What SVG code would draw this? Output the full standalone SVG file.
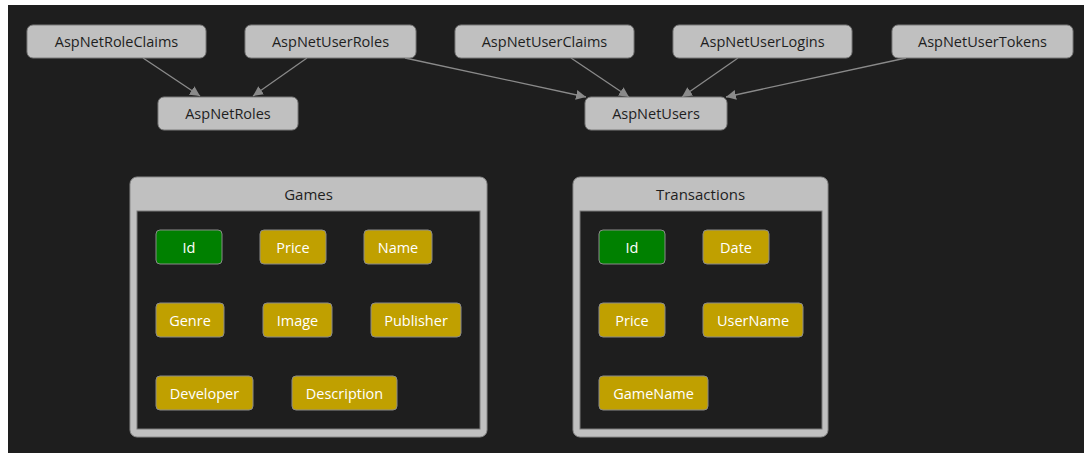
<svg xmlns="http://www.w3.org/2000/svg" width="1084" height="453" viewBox="0 0 1084 453">
<defs>
<marker id="arr" viewBox="0 0 10 10" refX="10" refY="5" markerWidth="10" markerHeight="10" markerUnits="userSpaceOnUse" orient="auto">
<path d="M0,0 L10,5 L0,10 z" fill="#8a8a8a"/>
</marker>
<style>
.node rect{fill:#c0c0c0;stroke:#7a7a7a;stroke-width:1}
.node text{font-family:"Open Sans","Noto Sans",sans-serif;font-size:14.5px;fill:#1e1e1e;text-anchor:middle;dominant-baseline:central}
.grp .outer{fill:#c0c0c0;stroke:#8a8a8a;stroke-width:1}
.grp .inner{fill:#1e1e1e;stroke:#7a7a7a;stroke-width:1}
.grp .title{font-family:"Open Sans","Noto Sans",sans-serif;font-size:15px;fill:#1e1e1e;text-anchor:middle;dominant-baseline:central}
.f rect{fill:#c0a000;stroke:#8a8a8a;stroke-width:1}
.f.key rect{fill:#008000}
.f text{font-family:"Open Sans","Noto Sans",sans-serif;font-size:14.5px;fill:#ffffff;text-anchor:middle;dominant-baseline:central}
.edges line{stroke:#8a8a8a;stroke-width:1.3;marker-end:url(#arr)}
</style>
</defs>
<rect x="0" y="0" width="1084" height="453" fill="#ffffff"/>
<rect x="8" y="5" width="1076" height="448" fill="#1e1e1e"/>

<g class="edges" id="connectors">
<line x1="143" y1="58" x2="200" y2="96"/>
<line x1="307" y1="58" x2="253" y2="96"/>
<line x1="405" y1="58" x2="586" y2="97"/>
<line x1="571" y1="58" x2="629" y2="97"/>
<line x1="738" y1="58" x2="682" y2="97"/>
<line x1="906" y1="58" x2="726" y2="97"/>
</g>

<g class="node" id="AspNetRoleClaims"><rect x="27" y="25" width="179" height="33" rx="6"/><text x="116.5" y="41.5">AspNetRoleClaims</text></g>
<g class="node" id="AspNetUserRoles"><rect x="245" y="25" width="171" height="33" rx="6"/><text x="330.5" y="41.5">AspNetUserRoles</text></g>
<g class="node" id="AspNetUserClaims"><rect x="455" y="25" width="179" height="33" rx="6"/><text x="544.5" y="41.5">AspNetUserClaims</text></g>
<g class="node" id="AspNetUserLogins"><rect x="673" y="25" width="179" height="33" rx="6"/><text x="762.5" y="41.5">AspNetUserLogins</text></g>
<g class="node" id="AspNetUserTokens"><rect x="892" y="25" width="181" height="33" rx="6"/><text x="982.5" y="41.5">AspNetUserTokens</text></g>
<g class="node" id="AspNetRoles"><rect x="158" y="97" width="140" height="33" rx="6"/><text x="228" y="113.5">AspNetRoles</text></g>
<g class="node" id="AspNetUsers"><rect x="585" y="97" width="142" height="33" rx="6"/><text x="656" y="113.5">AspNetUsers</text></g>

<g class="grp" id="Games">
<rect class="outer" x="130" y="177" width="357" height="260" rx="7"/>
<rect class="inner" x="137" y="211" width="343" height="218"/>
<text class="title" x="308.5" y="194">Games</text>
<g class="f key" id="Games_Id"><rect x="156" y="230" width="66" height="34" rx="4"/><text x="189" y="247">Id</text></g>
<g class="f" id="Games_Price"><rect x="260" y="230" width="66" height="34" rx="4"/><text x="293" y="247">Price</text></g>
<g class="f" id="Games_Name"><rect x="364" y="230" width="68" height="34" rx="4"/><text x="398" y="247">Name</text></g>
<g class="f" id="Games_Genre"><rect x="156" y="303" width="68" height="34" rx="4"/><text x="190" y="320">Genre</text></g>
<g class="f" id="Games_Image"><rect x="263" y="303" width="69" height="34" rx="4"/><text x="297.5" y="320">Image</text></g>
<g class="f" id="Games_Publisher"><rect x="371" y="303" width="90" height="34" rx="4"/><text x="416" y="320">Publisher</text></g>
<g class="f" id="Games_Developer"><rect x="156" y="376" width="97" height="34" rx="4"/><text x="204.5" y="393">Developer</text></g>
<g class="f" id="Games_Description"><rect x="292" y="376" width="105" height="34" rx="4"/><text x="344.5" y="393">Description</text></g>
</g>

<g class="grp" id="Transactions">
<rect class="outer" x="573" y="177" width="255" height="260" rx="7"/>
<rect class="inner" x="580" y="211" width="242" height="218"/>
<text class="title" x="700.5" y="194">Transactions</text>
<g class="f key" id="Transactions_Id"><rect x="599" y="230" width="66" height="34" rx="4"/><text x="632" y="247">Id</text></g>
<g class="f" id="Transactions_Date"><rect x="703" y="230" width="66" height="34" rx="4"/><text x="736" y="247">Date</text></g>
<g class="f" id="Transactions_Price"><rect x="599" y="303" width="66" height="34" rx="4"/><text x="632" y="320">Price</text></g>
<g class="f" id="Transactions_UserName"><rect x="703" y="303" width="100" height="34" rx="4"/><text x="753" y="320">UserName</text></g>
<g class="f" id="Transactions_GameName"><rect x="599" y="376" width="109" height="34" rx="4"/><text x="653.5" y="393">GameName</text></g>
</g>
</svg>
